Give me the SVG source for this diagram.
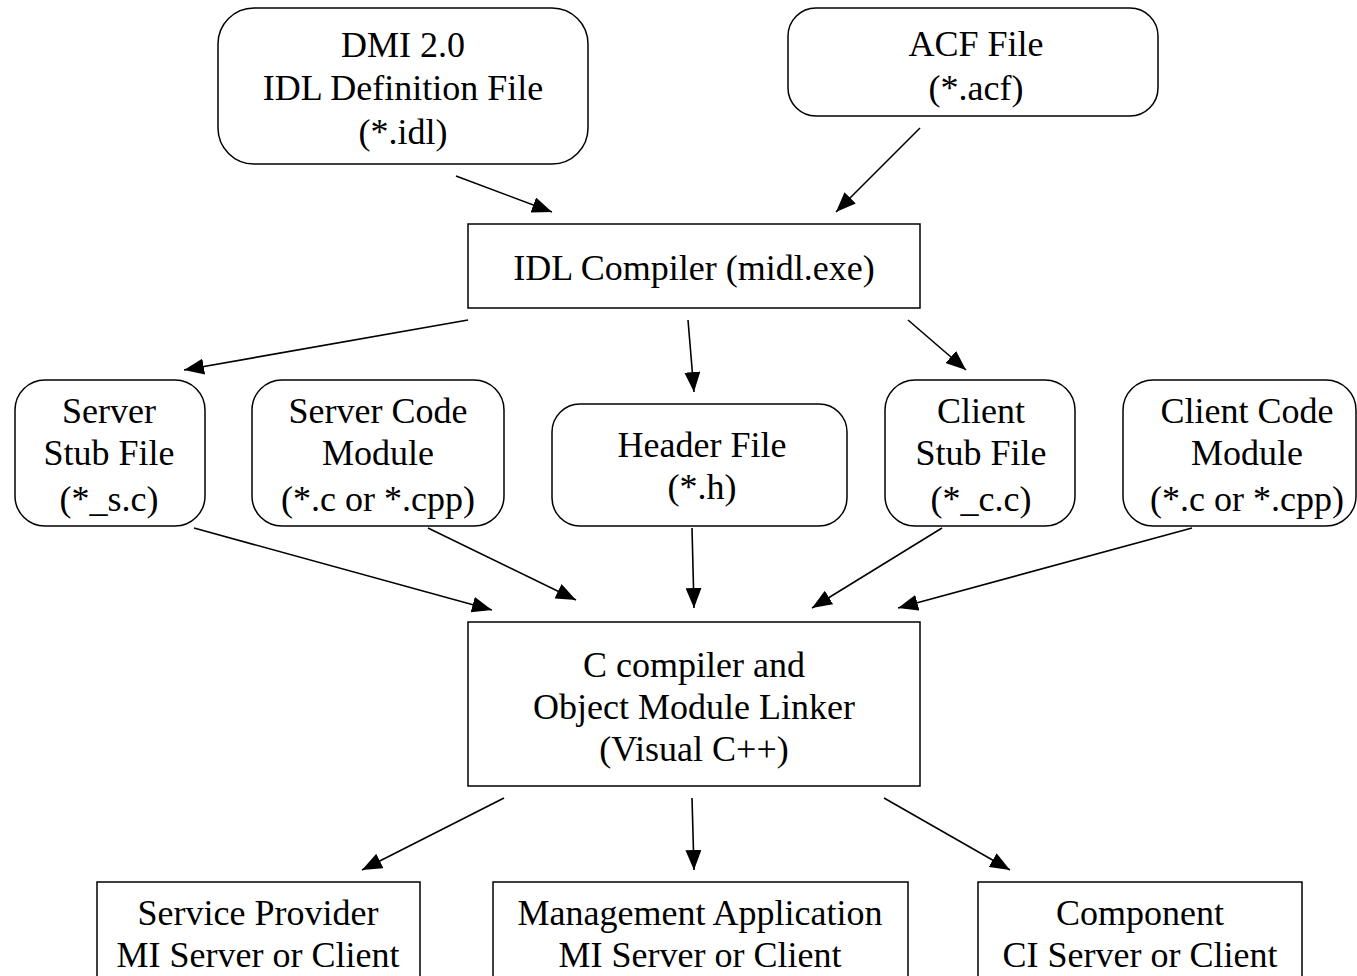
<svg xmlns="http://www.w3.org/2000/svg" width="1357" height="976" viewBox="0 0 1357 976">
<style>
.b{fill:#fff;stroke:#000;stroke-width:1.5}
.t{font-family:"Liberation Serif","Times New Roman",serif;font-size:36px;fill:#000;text-anchor:middle}
.c{stroke:#000;stroke-width:1.6;fill:none;marker-end:url(#ah)}
</style>
<defs>
<marker id="ah" markerUnits="userSpaceOnUse" markerWidth="20" markerHeight="16" viewBox="0 0 20 16" refX="20" refY="8" orient="auto">
<path d="M0,0 L20,8 L0,16 z" fill="#000"/>
</marker>
</defs>
<rect width="1357" height="976" fill="#fff"/>
<g id="connectors">
<line class="c" x1="456" y1="176" x2="552" y2="212"/>
<line class="c" x1="920" y1="128" x2="836" y2="212"/>
<line class="c" x1="468" y1="320" x2="184" y2="370"/>
<line class="c" x1="688" y1="320" x2="694" y2="392"/>
<line class="c" x1="908" y1="320" x2="966" y2="370"/>
<line class="c" x1="194" y1="528" x2="492" y2="610"/>
<line class="c" x1="428" y1="528" x2="576" y2="600"/>
<line class="c" x1="692" y1="528" x2="694" y2="608"/>
<line class="c" x1="942" y1="528" x2="812" y2="608"/>
<line class="c" x1="1192" y1="528" x2="898" y2="608"/>
<line class="c" x1="504" y1="798" x2="362" y2="870"/>
<line class="c" x1="692" y1="798" x2="694" y2="870"/>
<line class="c" x1="884" y1="798" x2="1010" y2="870"/>
</g>
<g id="idl">
<rect class="b" x="218" y="8" width="370" height="156" rx="36"/>
<text class="t" x="403" y="57">DMI 2.0</text>
<text class="t" x="403" y="100">IDL Definition File</text>
<text class="t" x="403" y="144">(*.idl)</text>
</g>
<g id="acf">
<rect class="b" x="788" y="8" width="370" height="108" rx="28"/>
<text class="t" x="976" y="56">ACF File</text>
<text class="t" x="976" y="100">(*.acf)</text>
</g>
<g id="compiler">
<rect class="b" x="468" y="224" width="452" height="84"/>
<text class="t" x="694" y="280">IDL Compiler (midl.exe)</text>
</g>
<g id="serverstub">
<rect class="b" x="15" y="380" width="190" height="146" rx="30"/>
<text class="t" x="109" y="423">Server</text>
<text class="t" x="109" y="465">Stub File</text>
<text class="t" x="109" y="511">(*_s.c)</text>
</g>
<g id="servercode">
<rect class="b" x="252" y="380" width="252" height="146" rx="30"/>
<text class="t" x="378" y="423">Server Code</text>
<text class="t" x="378" y="465">Module</text>
<text class="t" x="378" y="511">(*.c or *.cpp)</text>
</g>
<g id="header">
<rect class="b" x="552" y="404" width="295" height="122" rx="28"/>
<text class="t" x="702" y="457">Header File</text>
<text class="t" x="702" y="499">(*.h)</text>
</g>
<g id="clientstub">
<rect class="b" x="885" y="380" width="190" height="146" rx="30"/>
<text class="t" x="981" y="423">Client</text>
<text class="t" x="981" y="465">Stub File</text>
<text class="t" x="981" y="511">(*_c.c)</text>
</g>
<g id="clientcode">
<rect class="b" x="1123" y="380" width="233" height="146" rx="30"/>
<text class="t" x="1247" y="423">Client Code</text>
<text class="t" x="1247" y="465">Module</text>
<text class="t" x="1247" y="511">(*.c or *.cpp)</text>
</g>
<g id="linker">
<rect class="b" x="468" y="622" width="452" height="164"/>
<text class="t" x="694" y="677">C compiler and</text>
<text class="t" x="694" y="719">Object Module Linker</text>
<text class="t" x="694" y="761">(Visual C++)</text>
</g>
<g id="sp">
<rect class="b" x="97" y="882" width="323" height="120"/>
<text class="t" x="258" y="925">Service Provider</text>
<text class="t" x="258" y="967">MI Server or Client</text>
</g>
<g id="ma">
<rect class="b" x="493" y="882" width="415" height="120"/>
<text class="t" x="700" y="925">Management Application</text>
<text class="t" x="700" y="967">MI Server or Client</text>
</g>
<g id="comp">
<rect class="b" x="978" y="882" width="324" height="120"/>
<text class="t" x="1140" y="925">Component</text>
<text class="t" x="1140" y="967">CI Server or Client</text>
</g>
</svg>
